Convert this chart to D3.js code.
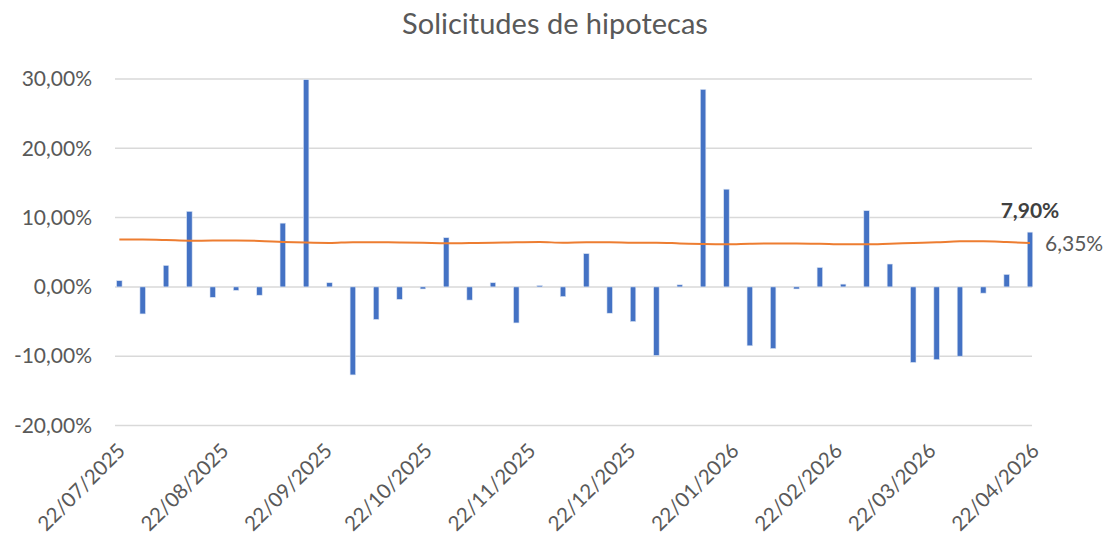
<!DOCTYPE html>
<html>
<head>
<meta charset="utf-8">
<script src="https://cdn.jsdelivr.net/npm/d3@7"></script>
<style>
  body { margin: 0; background: #fff; }
  text { font-family: Lato, "Open Sans", sans-serif; fill: #595959; }
</style>
</head>
<body>
<svg></svg>
<script>
const width = 1107
const height = 539

// weekly release dates (dd/mm/yyyy)
const weeks = [
  "23/07/2025", "30/07/2025", "06/08/2025", "13/08/2025", "20/08/2025", "27/08/2025",
  "03/09/2025", "10/09/2025", "17/09/2025", "24/09/2025", "01/10/2025", "08/10/2025",
  "15/10/2025", "22/10/2025", "29/10/2025", "05/11/2025", "12/11/2025", "19/11/2025",
  "26/11/2025", "03/12/2025", "10/12/2025", "17/12/2025", "24/12/2025", "31/12/2025",
  "07/01/2026", "14/01/2026", "21/01/2026", "28/01/2026", "04/02/2026", "11/02/2026",
  "18/02/2026", "25/02/2026", "04/03/2026", "11/03/2026", "18/03/2026", "25/03/2026",
  "01/04/2026", "08/04/2026", "15/04/2026", "22/04/2026"
]

// weekly change in applications (%)
const applications = [
  0.9, -3.9, 3.1, 10.9, -1.5, -0.5,
  -1.2, 9.2, 29.9, 0.6, -12.7, -4.7,
  -1.8, -0.3, 7.1, -1.9, 0.6, -5.2,
  0.2, -1.4, 4.8, -3.8, -5.0, -9.9,
  0.3, 28.5, 14.1, -8.5, -8.9, -0.3,
  2.8, 0.4, 11.0, 3.3, -10.9, -10.5,
  -10.0, -0.9, 1.8, 7.9
]

// 30y mortgage rate (%)
const rate = [
  6.83, 6.83, 6.77, 6.67, 6.68, 6.69,
  6.64, 6.49, 6.39, 6.34, 6.46, 6.43,
  6.42, 6.37, 6.30, 6.33, 6.38, 6.43,
  6.47, 6.38, 6.43, 6.43, 6.38, 6.38,
  6.28, 6.18, 6.14, 6.23, 6.28, 6.28,
  6.23, 6.14, 6.14, 6.23, 6.33, 6.43,
  6.57, 6.57, 6.47, 6.35
]

const xTicks = [
  "22/07/2025", "22/08/2025", "22/09/2025", "22/10/2025", "22/11/2025",
  "22/12/2025", "22/01/2026", "22/02/2026", "22/03/2026", "22/04/2026"
]
const yTicks = [-20, -10, 0, 10, 20, 30]

const parse = d3.timeParse("%d/%m/%Y")
const fmtPct = v => v.toFixed(2).replace(".", ",") + "%"

const data = weeks.map((w, i) => ({date: parse(w), app: applications[i], rate: rate[i]}))

const svg = d3.select("svg")
    .attr("width", width)
    .attr("height", height)

const x = d3.scaleTime()
    .domain([parse(xTicks[0]), parse(xTicks[xTicks.length - 1])])
    .range([116, 1030])

const y = d3.scaleLinear()
    .domain([-20, 30])
    .range([425.5, 79])

// title
svg.append("text")
    .attr("x", 555)
    .attr("y", 34)
    .attr("text-anchor", "middle")
    .attr("font-size", "29px")
    .text("Solicitudes de hipotecas")

// gridlines
svg.append("g")
    .selectAll("line")
    .data(yTicks)
    .join("line")
    .attr("x1", 115)
    .attr("x2", 1032)
    .attr("y1", d => y(d))
    .attr("y2", d => y(d))
    .attr("stroke", "#d9d9d9")
    .attr("stroke-width", 1.5)

// y labels
const yAxis = d3.axisLeft(y).tickValues(yTicks).tickFormat(fmtPct).tickSize(0).tickPadding(0)
svg.append("g")
    .attr("transform", "translate(92,0)")
    .call(yAxis)
    .call(g => g.select(".domain").remove())
    .selectAll("text")
    .attr("font-size", "21px")
    .attr("font-family", null)
    .attr("fill", "#595959")

// x labels
const xAxis = d3.axisBottom(x).tickValues(xTicks.map(parse)).tickFormat(d3.timeFormat("%d/%m/%Y")).tickSize(0)
svg.append("g")
    .attr("transform", "translate(0,432)")
    .call(xAxis)
    .call(g => g.select(".domain").remove())
    .selectAll("text")
    .attr("font-size", "20.5px")
    .attr("font-family", null)
    .attr("fill", "#595959")
    .attr("text-anchor", "end")
    .attr("x", 0)
    .attr("y", 0)
    .attr("dy", 0)
    .attr("transform", "translate(10,20) rotate(-45)")

// bars
const barW = 5.5
svg.append("g")
    .selectAll("rect")
    .data(data)
    .join("rect")
    .attr("x", d => x(d.date) - barW / 2)
    .attr("y", d => y(Math.max(0, d.app)))
    .attr("width", barW)
    .attr("height", d => Math.abs(y(d.app) - y(0)))
    .attr("fill", "#4472c4")
    .attr("stroke", "#dbe4f3")
    .attr("stroke-width", 0.6)

// rate line
const line = d3.line()
    .x(d => x(d.date))
    .y(d => y(d.rate))
    .curve(d3.curveMonotoneX)

svg.append("path")
    .datum(data)
    .attr("d", line)
    .attr("fill", "none")
    .attr("stroke", "#ed7d31")
    .attr("stroke-width", 2)

// last value labels
const last = data[data.length - 1]
svg.append("text")
    .attr("x", x(last.date))
    .attr("y", y(last.app) - 14)
    .attr("text-anchor", "middle")
    .attr("font-size", "21px")
    .attr("font-weight", "bold")
    .style("fill", "#404040")
    .text(fmtPct(last.app))

svg.append("text")
    .attr("x", x(last.date) + 15)
    .attr("y", y(last.rate) + 8)
    .attr("font-size", "21px")
    .text(fmtPct(last.rate))
</script>
</body>
</html>
